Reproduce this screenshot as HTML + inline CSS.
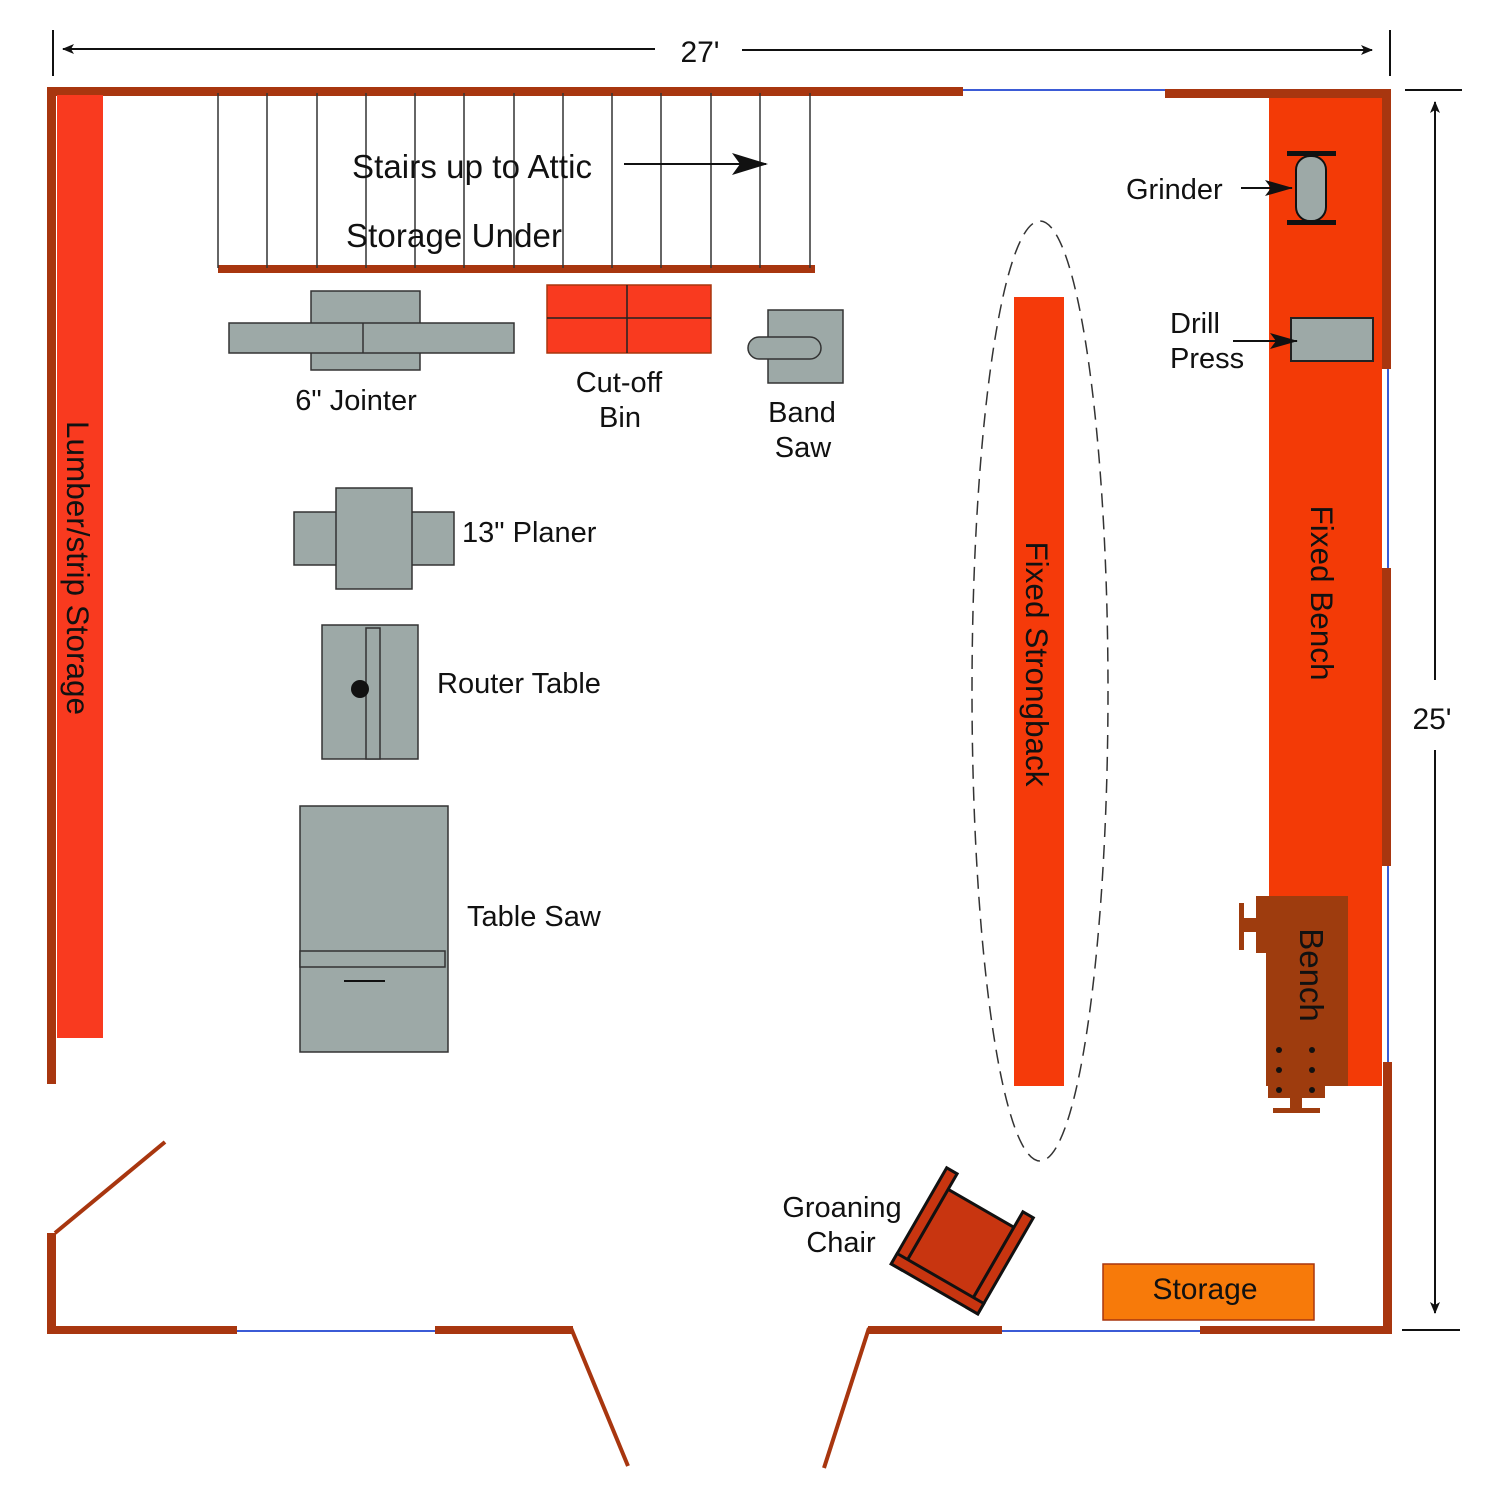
<!DOCTYPE html>
<html><head><meta charset="utf-8"><style>
html,body{margin:0;padding:0;background:#fff}
svg text{font-family:"Liberation Sans",sans-serif;fill:#111}
</style></head><body>
<svg width="1499" height="1500" viewBox="0 0 1499 1500" xmlns="http://www.w3.org/2000/svg">
<defs>
<marker id="ah" markerWidth="12" markerHeight="10" refX="11" refY="5" orient="auto" markerUnits="userSpaceOnUse"><path d="M0,0 L12,5 L0,10 L3,5 Z" fill="#111"/></marker>
<marker id="ah2" markerWidth="36" markerHeight="22" refX="34" refY="11" orient="auto" markerUnits="userSpaceOnUse"><path d="M0,0 L36,11 L0,22 L8,11 Z" fill="#111"/></marker>
<marker id="ah3" markerWidth="28" markerHeight="16" refX="27" refY="8" orient="auto" markerUnits="userSpaceOnUse"><path d="M0,0 L28,8 L0,16 L6,8 Z" fill="#111"/></marker>
</defs>
<line x1="53" y1="30" x2="53" y2="76" stroke="#111" stroke-width="2"/>
<line x1="1390" y1="30" x2="1390" y2="76" stroke="#111" stroke-width="2"/>
<line x1="655" y1="49" x2="63" y2="49" stroke="#111" stroke-width="2" marker-end="url(#ah)"/>
<line x1="742" y1="50" x2="1372" y2="50" stroke="#111" stroke-width="2" marker-end="url(#ah)"/>
<text x="700" y="62" font-size="30" text-anchor="middle">27'</text>
<line x1="1405" y1="90" x2="1462" y2="90" stroke="#111" stroke-width="2"/>
<line x1="1402" y1="1330" x2="1460" y2="1330" stroke="#111" stroke-width="2"/>
<line x1="1435" y1="680" x2="1435" y2="102" stroke="#111" stroke-width="2" marker-end="url(#ah)"/>
<line x1="1435" y1="750" x2="1435" y2="1313" stroke="#111" stroke-width="2" marker-end="url(#ah)"/>
<text x="1432" y="729" font-size="30" text-anchor="middle">25'</text>

<g fill="#A8360F">
<rect x="47" y="87" width="916" height="9"/>
<rect x="1165" y="89" width="226" height="9"/>
<rect x="1382" y="89" width="9" height="280"/>
<rect x="1382" y="568" width="9" height="298"/>
<rect x="1383" y="1062" width="9" height="272"/>
<rect x="47" y="87" width="9" height="997"/>
<rect x="47" y="1233" width="9" height="101"/>
<rect x="47" y="1326" width="190" height="8"/>
<rect x="435" y="1326" width="138" height="8"/>
<rect x="868" y="1326" width="134" height="8"/>
<rect x="1200" y="1326" width="192" height="8"/>
<rect x="218" y="265" width="597" height="8"/>
</g>
<g stroke="#A8360F" stroke-width="4">
<line x1="55" y1="1233" x2="165" y2="1142"/>
<line x1="571" y1="1328" x2="628" y2="1466"/>
<line x1="869" y1="1328" x2="824" y2="1468"/>
</g>
<g stroke="#3b5bd6" stroke-width="2">
<line x1="963" y1="90" x2="1165" y2="90"/>
<line x1="1388" y1="369" x2="1388" y2="568"/>
<line x1="1388" y1="866" x2="1388" y2="1062"/>
<line x1="237" y1="1331" x2="435" y2="1331"/>
<line x1="1002" y1="1331" x2="1200" y2="1331"/>
</g>

<rect x="57" y="95" width="46" height="943" fill="#F93A1F"/>
<text transform="translate(67,568) rotate(90)" font-size="31.5" text-anchor="middle">Lumber/strip Storage</text>

<g stroke="#333" stroke-width="1.5">
<line x1="218" y1="93" x2="218" y2="268"/><line x1="267" y1="93" x2="267" y2="268"/><line x1="317" y1="93" x2="317" y2="268"/><line x1="366" y1="93" x2="366" y2="268"/><line x1="415" y1="93" x2="415" y2="268"/><line x1="464" y1="93" x2="464" y2="268"/><line x1="514" y1="93" x2="514" y2="268"/><line x1="563" y1="93" x2="563" y2="268"/><line x1="612" y1="93" x2="612" y2="268"/><line x1="661" y1="93" x2="661" y2="268"/><line x1="711" y1="93" x2="711" y2="268"/><line x1="760" y1="93" x2="760" y2="268"/><line x1="810" y1="93" x2="810" y2="268"/>
</g>
<text x="352" y="178" font-size="33" textLength="240">Stairs up to Attic</text>
<line x1="624" y1="164" x2="766" y2="164" stroke="#111" stroke-width="2" marker-end="url(#ah2)"/>
<text x="346" y="247" font-size="33" textLength="216">Storage Under</text>

<g fill="#9DA9A7" stroke="#333" stroke-width="1.5">
<rect x="311" y="291" width="109" height="79"/>
<rect x="229" y="323" width="285" height="30"/>
<line x1="363" y1="323" x2="363" y2="353"/>
<rect x="768" y="310" width="75" height="73"/>
<rect x="748" y="337" width="73" height="22" rx="11"/>
<rect x="294" y="512" width="160" height="53"/>
<rect x="336" y="488" width="76" height="101"/>
<rect x="322" y="625" width="96" height="134"/>
<rect x="366" y="628" width="14" height="131"/>
<rect x="300" y="806" width="148" height="246"/>
<rect x="300" y="951" width="145" height="16"/>
</g>
<circle cx="360" cy="689" r="9" fill="#111"/>
<line x1="344" y1="981" x2="385" y2="981" stroke="#111" stroke-width="2"/>
<rect x="547" y="285" width="164" height="68" fill="#F93A1F" stroke="#A8360F" stroke-width="1.5"/>
<line x1="627" y1="285" x2="627" y2="353" stroke="#222" stroke-width="1.5"/>
<line x1="547" y1="318" x2="711" y2="318" stroke="#222" stroke-width="1.5"/>

<g font-size="29">
<text x="356" y="410" text-anchor="middle">6" Jointer</text>
<text x="619" y="392" text-anchor="middle">Cut-off</text>
<text x="620" y="427" text-anchor="middle">Bin</text>
<text x="802" y="422" text-anchor="middle">Band</text>
<text x="803" y="457" text-anchor="middle">Saw</text>
<text x="462" y="542">13" Planer</text>
<text x="437" y="693">Router Table</text>
<text x="467" y="926">Table Saw</text>
</g>

<ellipse cx="1040" cy="691" rx="68" ry="470" fill="none" stroke="#333" stroke-width="1.5" stroke-dasharray="14,8"/>
<rect x="1014" y="297" width="50" height="789" fill="#F53A0A"/>
<text transform="translate(1026,664) rotate(90)" font-size="31.5" text-anchor="middle">Fixed Strongback</text>

<rect x="1269" y="98" width="113" height="988" fill="#F33A06"/>
<text transform="translate(1311,593) rotate(90)" font-size="31.5" text-anchor="middle">Fixed Bench</text>
<rect x="1296" y="156" width="30" height="65" rx="14" fill="#9DA9A7" stroke="#111" stroke-width="2"/>
<rect x="1287" y="151" width="49" height="5" fill="#111"/>
<rect x="1287" y="220" width="49" height="5" fill="#111"/>
<rect x="1291" y="318" width="82" height="43" fill="#9DA9A7" stroke="#222" stroke-width="2"/>
<text x="1126" y="199" font-size="29">Grinder</text>
<line x1="1241" y1="188" x2="1292" y2="188" stroke="#111" stroke-width="2" marker-end="url(#ah3)"/>
<text x="1170" y="333" font-size="29">Drill</text>
<text x="1170" y="368" font-size="29">Press</text>
<line x1="1233" y1="341" x2="1297" y2="341" stroke="#111" stroke-width="2" marker-end="url(#ah3)"/>

<g fill="#9E3C0E">
<rect x="1266" y="896" width="82" height="190"/>
<rect x="1256" y="896" width="12" height="57"/>
<rect x="1239" y="903" width="5" height="47"/>
<rect x="1239" y="918" width="20" height="14"/>
<rect x="1268" y="1086" width="57" height="12"/>
<rect x="1290" y="1096" width="12" height="12"/>
<rect x="1273" y="1108" width="47" height="5"/>
</g>
<g fill="#111">
<circle cx="1279" cy="1050" r="3"/><circle cx="1312" cy="1050" r="3"/>
<circle cx="1279" cy="1070" r="3"/><circle cx="1312" cy="1070" r="3"/>
<circle cx="1279" cy="1090" r="3"/><circle cx="1312" cy="1090" r="3"/>
</g>
<text transform="translate(1300,975) rotate(90)" font-size="33" text-anchor="middle">Bench</text>

<g transform="translate(961,1243) rotate(30)" fill="#C83510" stroke="#111" stroke-width="3">
<rect x="-38" y="-40" width="76" height="82"/>
<rect x="-50" y="-58" width="12" height="111"/>
<rect x="38" y="-58" width="12" height="111"/>
<rect x="-50" y="41" width="100" height="12"/>
</g>
<text x="842" y="1217" font-size="29" text-anchor="middle">Groaning</text>
<text x="841" y="1252" font-size="29" text-anchor="middle">Chair</text>

<rect x="1103" y="1264" width="211" height="56" fill="#F77A0A" stroke="#A8360F" stroke-width="1.5"/>
<text x="1205" y="1299" font-size="30" text-anchor="middle">Storage</text>
</svg>
</body></html>
